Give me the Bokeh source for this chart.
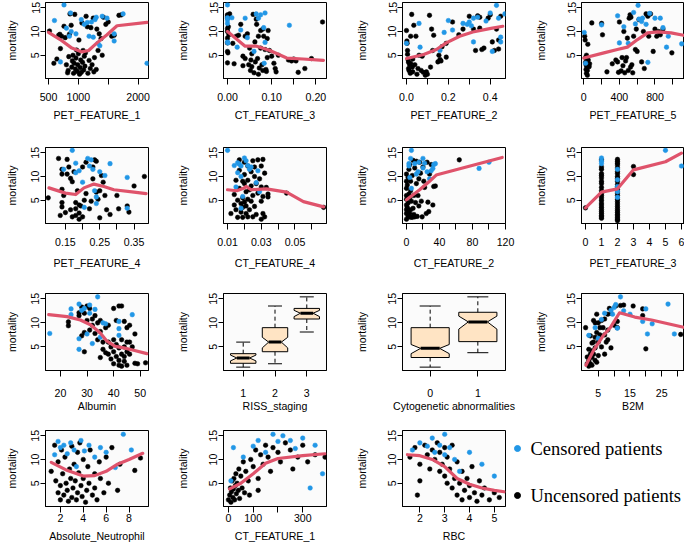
from bokeh.plotting import figure
from bokeh.layouts import row, column
from bokeh.models import Range1d, FixedTicker
from bokeh.embed import file_html
from bokeh.resources import INLINE
from bokeh.core.properties import value

# ---------------- shared ----------------
MORT_RANGE = (0.1, 16.1)
Y_TICKS = [5, 10, 15]
Y_LABEL = "mortality"
LEGEND_LABELS = ["Censored patients", "Uncensored patients"]

BLACK = "#000000"
BLUE = "#2297E6"
RED = "#DF536B"
BOXFILL = "#FFE4C4"
FONT = "Liberation Sans"
LEGFONT = "Liberation Serif"
FS = "10.6px"

# ---------------- panel data ----------------
pet1_name = "PET_FEATURE_1"
pet1_xlim = (450, 2175)
pet1_ticks = [500, 1000, 1500, 2000]
pet1_labels = ["500", "1000", "", "2000"]
pet1_black = [(517,10.1),(590,3.3),(640,4.2),(670,9.2),(690,9.4),(700,6.4),(720,9.0),(760,11.1),(780,8.7),(800,3.0),
              (820,1.3),(830,1.8),(840,4.7),(850,9.4),(860,13.7),(880,11.3),(890,2.5),(900,3.8),(910,5.0),(920,1.2),
              (930,3.3),(940,13.6),(950,2.1),(960,4.4),(970,6.1),(980,1.6),(990,3.0),(1000,5.3),(1010,8.2),(1020,1.0),
              (1030,2.4),(1040,4.0),(1050,1.4),(1060,11.8),(1070,3.5),(1080,6.0),(1090,1.9),(1100,4.8),(1110,2.7),(1120,5.5),
              (1130,13.2),(1150,11.0),(1160,1.2),(1180,3.9),(1200,2.2),(1210,10.8),(1230,3.0),(1250,12.8),(1260,1.5),(1270,4.5),
              (1300,2.0),(1310,10.5),(1330,6.0),(1350,9.5),(1380,8.5),(1400,5.0),(1420,13.0),(1460,11.5),(1500,12.0),(1560,9.0),
              (1600,9.2),(1680,13.4),(1720,13.5)]
pet1_blue = [(600,12.3),(700,3.6),(760,15.6),(800,10.7),(850,9.0),(880,10.0),(870,13.9),(960,9.5),(1050,12.5),(1100,11.5),
             (1150,11.9),(1180,9.0),(1220,12.0),(1250,8.8),(1280,12.5),(1300,13.0),(1330,7.5),(1360,7.0),(1400,13.2),(1480,12.8),
             (1600,8.0),(1600,9.5),(1750,13.7),(2150,3.3)]
pet1_loess = [(500,9.8),(696,8.3),(892,6.5),(1060,5.7),(1172,6.0),(1312,7.6),(1480,9.3),(1648,11.2),(2150,11.9)]

ct3_name = "CT_FEATURE_3"
ct3_xlim = (-0.009, 0.224)
ct3_ticks = [0.0, 0.05, 0.1, 0.15, 0.2]
ct3_labels = ["0.00", "", "0.10", "", "0.20"]
ct3_black = [(0,13.5),(0,13.2),(0,12.8),(0.002,11.0),(0,10.6),(0,10.0),(0.003,9.3),(0,8.6),(0,7.6),(0,5.8),(0.001,5.5),(0,3.4),
             (0.005,13.7),(0.012,7.5),(0.015,3.2),(0.02,9.0),(0.025,9.2),(0.03,11.5),(0.035,4.8),(0.035,2.8),(0.04,4.3),(0.04,9.0),
             (0.045,9.5),(0.048,3.0),(0.05,6.5),(0.052,1.8),(0.053,4.0),(0.055,2.6),(0.055,5.3),(0.058,13.6),(0.06,1.3),(0.062,7.8),
             (0.063,3.6),(0.065,12.6),(0.066,11.5),(0.068,4.3),(0.07,9.0),(0.07,1.0),(0.072,2.3),(0.075,10.2),(0.075,6.5),(0.078,3.0),
             (0.08,10.5),(0.08,1.8),(0.082,9.0),(0.085,6.2),(0.087,2.0),(0.088,1.6),(0.09,8.5),(0.09,4.5),(0.092,10.2),(0.095,6.0),
             (0.1,4.8),(0.105,3.3),(0.108,2.2),(0.11,1.5),(0.115,5.0),(0.138,4.0),(0.145,3.8),(0.15,4.2),(0.155,3.8),(0.16,1.4),
             (0.175,2.2),(0.19,4.3),(0.215,12.0)]
ct3_blue = [(0,15.6),(0,12.9),(0,12.4),(0,11.7),(0,7.8),(0.001,7.6),(0.01,12.9),(0.022,6.7),(0.03,10.3),(0.04,12.8),
            (0.045,8.7),(0.06,5.8),(0.065,13.7),(0.07,12.8),(0.075,13.5),(0.082,10.8),(0.085,13.9),(0.085,7.7),(0.083,3.3),(0.14,11.3)]
ct3_loess = [(0,10.0),(0.04,6.9),(0.066,6.9),(0.096,6.0),(0.134,4.4),(0.171,4.2),(0.217,3.9)]

pet2_name = "PET_FEATURE_2"
pet2_xlim = (-0.019, 0.473)
pet2_ticks = [0.0, 0.1, 0.2, 0.3, 0.4]
pet2_labels = ["0.0", "", "0.2", "", "0.4"]
pet2_black = [(0,10.2),(0.002,8.0),(0.003,7.5),(0.005,6.0),(0.005,5.2),(0.008,4.0),(0.01,3.5),(0.01,2.2),(0.012,1.8),(0.015,3.0),
              (0.018,1.2),(0.02,3.3),(0.02,9.0),(0.025,13.6),(0.028,2.5),(0.03,1.5),(0.03,4.2),(0.035,11.3),(0.04,3.0),(0.045,9.0),
              (0.05,1.0),(0.055,2.2),(0.06,5.0),(0.07,1.8),(0.075,4.8),(0.08,1.4),(0.09,0.8),(0.095,1.5),(0.1,1.0),(0.11,13.4),
              (0.115,2.5),(0.12,10.5),(0.125,6.0),(0.13,9.2),(0.15,3.6),(0.155,5.0),(0.16,4.1),(0.165,3.8),(0.17,6.8),(0.19,7.5),
              (0.19,4.6),(0.22,12.0),(0.25,9.3),(0.27,10.5),(0.3,13.2),(0.32,10.5),(0.33,6.0),(0.34,13.3),(0.35,13.0),(0.35,10.7),
              (0.36,6.2),(0.37,6.5),(0.39,12.8),(0.4,13.5),(0.41,7.8),(0.42,6.0),(0.43,10.5),(0.44,8.2),(0.45,13.2),(0.44,6.3)]
pet2_blue = [(0,7.5),(0.06,11.7),(0.065,6.7),(0.16,6.0),(0.18,9.8),(0.2,12.3),(0.22,10.3),(0.27,11.7),(0.29,11.5),(0.3,12.0),
             (0.31,11.2),(0.32,7.8),(0.32,12.8),(0.34,13.0),(0.38,12.2),(0.4,13.9),(0.41,5.8),(0.43,15.5),(0.44,12.8),(0.45,8.8),
             (0.45,7.8),(0.47,13.7)]
pet2_loess = [(0,4.3),(0.079,5.1),(0.143,6.2),(0.19,7.6),(0.254,9.0),(0.317,9.9),(0.397,10.6),(0.46,11.1)]

pet5_name = "PET_FEATURE_5"
pet5_xlim = (-26, 1132)
pet5_ticks = [0, 200, 400, 600, 800, 1000]
pet5_labels = ["0", "", "400", "", "800", ""]
pet5_black = [(10,9.0),(15,8.2),(20,4.5),(20,3.5),(25,3.0),(25,2.0),(30,1.2),(30,5.0),(35,2.5),(40,1.8),(40,0.8),(45,7.3),
              (50,4.0),(60,2.6),(65,3.2),(90,11.8),(200,11.7),(210,9.3),(260,1.5),(320,3.2),(360,4.0),(380,3.6),(390,1.4),
              (400,12.0),(420,1.7),(430,4.5),(440,2.8),(450,10.0),(460,1.3),(470,3.8),(480,4.5),(490,8.6),(500,1.8),(510,12.8),
              (520,13.5),(525,2.5),(530,13.0),(540,3.0),(550,1.3),(560,9.0),(580,6.2),(590,10.5),(600,5.8),(620,12.5),(650,3.6),
              (670,10.0),(680,2.2),(700,13.7),(720,13.2),(730,9.0),(750,13.7),(780,5.8),(800,10.5),(820,9.0),(840,10.0),
              (860,9.3),(890,10.5),(990,5.5)]
pet5_blue = [(5,9.8),(20,3.3),(200,11.4),(380,13.3),(400,7.6),(450,11.0),(500,7.5),(560,14.0),(580,11.6),(610,15.5),
             (620,12.6),(650,12.1),(660,12.8),(700,11.5),(720,3.5),(740,13.8),(800,12.8),(860,12.8),(890,10.8),(930,6.7),
             (950,9.0),(1100,7.4)]
pet5_loess = [(0,4.4),(226,5.5),(377,6.2),(490,6.7),(604,8.3),(717,9.7),(830,9.9),(981,9.7),(1120,9.2)]

pet4_name = "PET_FEATURE_4"
pet4_xlim = (0.092, 0.392)
pet4_ticks = [0.15, 0.2, 0.25, 0.3, 0.35]
pet4_labels = ["0.15", "", "0.25", "", "0.35"]
pet4_black = [(0.1,5.5),(0.13,13.8),(0.14,11.5),(0.14,10.5),(0.14,7.3),(0.145,6.0),(0.14,4.5),(0.14,3.6),(0.135,1.8),(0.155,13.6),
              (0.15,2.4),(0.155,10.5),(0.16,12.0),(0.165,9.6),(0.17,8.9),(0.165,3.0),(0.17,1.5),(0.175,11.0),(0.18,4.5),(0.18,3.2),
              (0.18,1.8),(0.185,7.0),(0.19,1.0),(0.19,2.3),(0.19,4.0),(0.195,3.8),(0.2,12.0),(0.2,1.5),(0.205,5.0),(0.21,13.0),
              (0.21,6.4),(0.22,3.2),(0.225,4.8),(0.23,12.0),(0.23,9.5),(0.235,13.5),(0.24,13.2),(0.24,6.7),(0.245,5.2),(0.25,7.0),
              (0.25,1.3),(0.255,10.2),(0.26,8.8),(0.265,6.0),(0.27,3.0),(0.28,2.0),(0.3,6.0),(0.305,3.2),(0.33,3.8),(0.335,2.5),
              (0.35,8.0),(0.38,10.0)]
pet4_blue = [(0.145,11.5),(0.17,15.5),(0.18,12.8),(0.18,10.8),(0.19,11.2),(0.2,8.8),(0.205,3.5),(0.215,13.8),(0.22,12.2),
             (0.225,13.5),(0.23,11.5),(0.235,7.0),(0.24,5.7),(0.24,4.3),(0.25,11.0),(0.265,10.2),(0.28,12.7),(0.33,9.8),(0.33,3.3)]
pet4_loess = [(0.102,7.6),(0.15,6.5),(0.18,6.2),(0.204,7.6),(0.233,8.4),(0.262,7.9),(0.291,7.2),(0.35,6.7),(0.385,6.4)]

ct4_name = "CT_FEATURE_4"
ct4_xlim = (0.0076, 0.0687)
ct4_ticks = [0.01, 0.02, 0.03, 0.04, 0.05, 0.06]
ct4_labels = ["0.01", "", "0.03", "", "0.05", ""]
ct4_black = [(0.012,2.2),(0.014,6.2),(0.014,4.0),(0.015,9.2),(0.015,3.0),(0.016,1.4),(0.016,5.0),(0.017,13.5),(0.017,11.3),
             (0.017,7.5),(0.018,4.3),(0.018,2.5),(0.019,9.0),(0.019,5.5),(0.019,3.5),(0.019,1.4),(0.02,13.0),(0.02,10.4),(0.02,8.5),
             (0.02,4.6),(0.021,6.8),(0.021,3.8),(0.021,2.2),(0.022,12.2),(0.022,9.2),(0.022,5.2),(0.022,1.5),(0.023,7.2),(0.023,3.0),
             (0.024,11.0),(0.024,8.0),(0.024,4.8),(0.025,13.3),(0.025,6.0),(0.025,1.5),(0.026,10.0),(0.026,12.0),(0.026,3.7),
             (0.027,8.5),(0.027,2.0),(0.028,13.5),(0.028,6.5),(0.029,9.5),(0.03,12.2),(0.03,7.8),(0.03,4.8),(0.03,1.0),(0.031,13.6),
             (0.031,5.8),(0.031,2.2),(0.032,10.7),(0.032,1.5),(0.033,7.7),(0.034,5.7),(0.034,6.3),(0.045,6.5),(0.067,3.5)]
ct4_blue = [(0.01,15.5),(0.014,12.3),(0.015,7.8),(0.016,12.9),(0.016,10.8),(0.017,12.6),(0.018,12.2),(0.018,10.0),(0.019,5.8),
            (0.02,13.9),(0.021,13.3),(0.022,12.3),(0.023,11.5),(0.024,12.0),(0.027,8.7),(0.028,11.2),(0.029,6.8),(0.018,3.3)]
ct4_loess = [(0.01,7.2),(0.0155,7.0),(0.0195,7.5),(0.021,7.9),(0.024,7.2),(0.033,7.4),(0.045,6.7),(0.055,4.7),(0.067,3.6)]

ct2_name = "CT_FEATURE_2"
ct2_xlim = (-4.8, 120)
ct2_ticks = [0, 20, 40, 60, 80, 100, 120]
ct2_labels = ["0", "", "40", "", "80", "", "120"]
ct2_black = [(0,1.0),(0,2.2),(0,3.0),(0,4.0),(0,5.2),(0,6.0),(0,7.5),(0,9.0),(0,10.5),(1,3.5),(1,8.2),(2,1.6),(2,2.5),(2,4.4),
             (2,9.8),(3,6.3),(3,11.5),(4,2.2),(4,5.5),(4,12.5),(5,1.4),(5,3.0),(5,7.0),(5,9.0),(6,4.8),(7,1.4),(7,10.2),(8,3.3),
             (8,13.4),(9,2.0),(9,6.0),(10,11.8),(10,1.5),(11,4.5),(12,8.5),(12,13.2),(13,1.6),(14,6.0),(15,9.5),(15,3.8),(16,13.0),
             (17,10.7),(18,4.8),(19,1.5),(20,12.0),(21,9.0),(22,7.7),(24,2.2),(25,13.0),(26,4.6),(27,2.6),(28,10.5),(30,12.5),
             (32,4.0),(33,7.9),(35,8.0),(64,13.5)]
ct2_blue = [(3,12.7),(3,12.2),(6,15.5),(5,13.8),(4,9.8),(6,7.5),(10,12.7),(12,10.5),(14,11.0),(15,13.0),(20,13.8),(20,11.8),
            (22,12.8),(25,11.0),(28,9.5),(30,11.2),(32,11.7),(33,12.5),(35,12.7),(88,11.7),(100,13.0)]
ct2_loess = [(0,5.1),(16,7.2),(28,9.0),(36,10.3),(116,14.0)]

pet3_name = "PET_FEATURE_3"
pet3_xlim = (-0.25, 6.19)
pet3_ticks = [0, 1, 2, 3, 4, 5, 6]
pet3_labels = ["0", "1", "2", "3", "4", "5", "6"]
pet3_black = [(0,3.4),
              (1,1.2),(1,1.5),(1,1.8),(1,2.2),(1,2.6),(1,3.0),(1,3.5),(1,4.0),(1,4.4),(1,5.0),(1,5.5),(1,6.0),(1,6.4),(1,7.0),
              (1,7.7),(1,8.5),(1,9.0),(1,9.7),(1,10.2),(1,10.6),(1,11.5),(1,12.0),(1,13.5),
              (2,0.7),(2,1.0),(2,1.3),(2,1.7),(2,2.0),(2,2.4),(2,2.8),(2,3.2),(2,3.7),(2,4.2),(2,4.7),(2,5.2),(2,6.0),(2,6.5),
              (2,7.2),(2,7.8),(2,8.3),(2,9.0),(2,9.6),(2,10.0),(2,10.6),(2,11.0),(2,11.8),(2,12.4),(2,12.8),(2,13.2),(2,13.6),
              (3,12.1),(3,10.4)]
pet3_blue = [(1,13.9),(1,13.2),(1,12.7),(2,11.5),(2,9.3),(2,7.9),(2,6.8),(2,5.6),(5,15.5),(6,12.2)]
pet3_loess = [(0,3.4),(1,6.7),(2,7.4),(3,11.4),(5,13.1),(6,14.9)]

alb_name = "Albumin"
alb_xlim = (14.4, 53.1)
alb_ticks = [20, 30, 40, 50]
alb_labels = ["20", "30", "40", "50"]
alb_black = [(23,10.2),(23,9.4),(27,12.1),(27,11.5),(28,7.3),(28,13.3),(29,4.0),(29,8.0),(29,12.0),(30,13.5),(30,10.5),(31,13.0),
             (31,8.5),(32,9.5),(32,10.8),(33,11.5),(33,7.8),(34,10.0),(34,6.5),(35,10.5),(35,8.2),(35,2.8),(36,6.0),(36,4.5),
             (37,3.8),(37,9.0),(38,6.0),(38,3.5),(38,9.5),(39,5.0),(39,2.5),(40,13.0),(40,4.0),(40,1.5),(40,6.5),(41,10.5),(41,3.0),
             (41,5.5),(42,13.5),(42,1.2),(42,4.8),(42,2.2),(43,13.5),(43,6.5),(43,3.5),(43,1.0),(44,10.3),(44,5.0),(44,3.0),(44,2.0),
             (45,9.0),(45,6.0),(45,4.0),(45,1.2),(46,9.5),(46,6.0),(46,3.5),(47,5.0),(48,7.7),(48,1.6),(49,1.5),(52,1.7)]
alb_blue = [(16,7.8),(24,12.9),(24,11.7),(27,13.9),(27,6.7),(27,4.5),(28,12.6),(29,13.0),(30,7.7),(31,13.7),(31,12.0),(32,5.7),
            (33,12.8),(34,15.4),(35,7.0),(36,10.0),(37,9.8),(42,10.3),(42,8.8),(42,7.4),(47,11.7)]
alb_loess = [(15.6,11.7),(22.5,11.3),(27.5,10.6),(31.3,9.6),(35,7.9),(37.5,6.2),(40.6,5.1),(43.8,4.8),(47.5,4.3),(52.5,3.6)]

riss_name = "RISS_staging"
riss_xlim = (0.38, 3.62)
riss_groups = [1, 2, 3]
riss_labels = ["1", "2", "3"]
riss_whisk_lo = [0.8, 1.5, 8.1]
riss_q1 = [1.6, 4.0, 10.8]
riss_median = [2.7, 6.0, 12.0]
riss_q3 = [3.6, 9.0, 13.0]
riss_whisk_hi = [6.0, 13.5, 15.4]
riss_notch_lo = [2.1, 4.8, 11.3]
riss_notch_hi = [3.3, 7.0, 12.6]

cyto_name = "Cytogenetic abnormalities"
cyto_xlim = (-0.58, 1.58)
cyto_groups = [0, 1]
cyto_labels = ["0", "1"]
cyto_whisk_lo = [0.8, 3.8]
cyto_q1 = [2.8, 6.1]
cyto_median = [4.7, 10.2]
cyto_q3 = [9.0, 12.2]
cyto_whisk_hi = [13.5, 15.4]
cyto_notch_lo = [3.6, 8.7]
cyto_notch_hi = [5.5, 11.4]

b2m_name = "B2M"
b2m_xlim = (-0.3, 32.2)
b2m_ticks = [5, 10, 15, 20, 25, 30]
b2m_labels = ["5", "", "15", "", "25", ""]
b2m_black = [(1,9.0),(1.5,2.9),(1.5,1.5),(2,2.2),(2,4.5),(2,1.0),(2.5,7.3),(2.5,3.5),(2.5,1.5),(3,5.8),(3,2.8),(3,4.2),(3,1.2),
             (3.5,10.5),(3.5,6.0),(3.5,3.5),(4,10.0),(4,4.8),(4,2.2),(4,7.0),(4.5,11.8),(4.5,8.0),(4.5,1.8),(5,10.0),(5,6.0),
             (5,3.2),(5.5,7.5),(5.5,9.0),(6,10.5),(6,5.0),(6.5,9.0),(7,10.8),(7,3.5),(7,7.5),(7.5,6.0),(8,11.8),(8,8.5),(8,6.5),
             (8.5,13.0),(9,4.8),(9,12.0),(10,9.5),(10.5,13.5),(11,10.3),(11,9.0),(12,13.6),(13,13.7),(16,13.5),(19,12.9),
             (19,11.5),(20,4.6),(31,7.6)]
b2m_blue = [(2,7.4),(4,9.0),(5,6.8),(6,10.7),(7,12.0),(9,12.6),(9.5,11.8),(10,13.2),(10.5,13.8),(11,8.9),(12,15.4),(13,12.5),
            (15,11.8),(19,10.3),(20,12.9),(20.5,7.7),(22,9.8),(27,13.9),(29,7.7)]
b2m_loess = [(1.1,1.2),(3.7,4.5),(6.4,7.2),(9.0,9.2),(11.7,12.1),(16.5,11.2),(21.8,10.6),(31.9,9.1)]

neut_name = "Absolute_Neutrophil"
neut_xlim = (0.7, 9.7)
neut_ticks = [2, 4, 6, 8]
neut_labels = ["2", "4", "6", "8"]
neut_black = [(1.2,7.5),(1.5,13.0),(1.6,5.5),(1.8,3.0),(1.8,9.5),(2.0,1.5),(2.0,4.5),(2.1,12.0),(2.2,7.0),(2.3,2.5),(2.4,10.5),
              (2.5,5.0),(2.6,3.5),(2.7,1.2),(2.8,8.0),(2.9,6.0),(3.0,12.8),(3.0,2.0),(3.1,4.0),(3.2,9.0),(3.3,5.5),(3.4,1.5),
              (3.5,11.5),(3.5,3.0),(3.6,7.2),(3.7,13.5),(3.8,4.5),(3.9,2.2),(4.0,10.0),(4.0,6.0),(4.2,1.0),(4.3,3.5),(4.4,8.5),
              (4.5,5.0),(4.6,12.0),(4.8,2.5),(5.0,7.0),(5.0,4.0),(5.2,1.5),(5.4,9.5),(5.5,6.0),(5.8,3.0),(6.0,10.5),(6.2,5.0),
              (6.5,12.5),(7.0,3.5),(7.2,9.0),(8.5,7.7),(9.0,10.3)]
neut_blue = [(1.5,11.0),(1.8,13.8),(2.0,12.5),(2.3,13.0),(2.6,11.2),(2.9,13.5),(3.2,12.0),(3.4,8.5),(3.8,14.0),(4.1,11.8),
             (4.5,13.0),(5.0,10.5),(5.5,12.5),(6.0,11.5),(6.8,8.3),(7.5,15.3),(8.2,12.0)]
neut_loess = [(1.2,9.4),(2.5,7.8),(4.0,6.5),(5.0,6.6),(6.0,7.5),(7.0,9.0),(8.0,10.0),(9.2,11.3)]

ct1_name = "CT_FEATURE_1"
ct1_xlim = (-20, 396)
ct1_ticks = [0, 100, 200, 300]
ct1_labels = ["0", "100", "", "300"]
ct1_black = [(0,1.5),(5,2.5),(8,4.0),(10,1.0),(12,3.2),(15,5.5),(18,2.0),(20,3.8),(22,6.0),(25,1.5),(28,4.5),(30,7.0),(32,2.8),
             (35,5.0),(40,3.5),(42,8.0),(45,1.8),(50,6.5),(55,4.0),(60,9.5),(65,3.0),(70,7.5),(80,5.5),(90,10.0),(100,8.5),
             (110,12.0),(120,6.0),(130,11.0),(140,9.0),(150,13.0),(160,10.5),(170,7.5),(180,12.5),(200,11.5),(210,9.5),
             (230,13.5),(250,12.0),(260,8.0),(280,10.5),(300,13.0),(320,9.5),(350,11.0),(390,10.5),(120,3.5),(85,2.5)]
ct1_blue = [(10,5.5),(20,12.5),(60,10.5),(100,12.8),(120,14.0),(150,11.5),(180,15.3),(200,13.8),(220,15.0),(250,14.0),
            (270,12.3),(300,14.5),(330,4.0),(350,13.0),(380,7.0)]
ct1_loess = [(5,3.8),(50,5.0),(100,7.0),(150,9.2),(200,10.2),(300,10.8),(390,11.2)]

rbc_name = "RBC"
rbc_xlim = (1.3, 5.45)
rbc_ticks = [2, 3, 4, 5]
rbc_labels = ["2", "3", "4", "5"]
rbc_black = [(1.6,10.5),(1.8,12.5),(2.0,9.0),(2.2,13.0),(2.3,11.0),(2.4,8.0),(2.5,12.0),(2.6,10.0),(2.7,13.5),(2.8,7.5),
             (2.8,11.5),(2.9,9.0),(3.0,6.5),(3.0,12.5),(3.1,5.0),(3.1,10.5),(3.2,8.0),(3.3,4.0),(3.3,13.0),(3.4,6.0),(3.5,2.5),
             (3.5,9.5),(3.6,5.0),(3.7,1.5),(3.7,7.5),(3.8,3.5),(3.9,6.0),(4.0,2.0),(4.0,4.5),(4.1,8.5),(4.2,3.0),(4.3,1.2),
             (4.4,5.5),(4.5,2.5),(4.6,4.0),(4.8,1.5),(5.0,3.0),(5.2,2.0),(2.0,5.5),(1.9,2.5)]
rbc_blue = [(1.7,12.0),(2.0,13.5),(2.3,12.8),(2.5,14.5),(2.6,11.5),(2.8,13.0),(3.0,15.3),(3.0,11.0),(3.2,12.5),(3.4,10.0),
            (3.6,7.5),(4.0,11.5),(4.5,9.0),(5.0,6.5)]
rbc_loess = [(1.5,11.0),(2.0,10.8),(2.5,10.0),(3.0,8.5),(3.5,6.0),(4.0,4.8),(4.5,4.0),(5.0,3.5),(5.4,3.2)]

# ---------------- layout ----------------
COL_WIDTH = [171, 179, 179, 155]
COL_BORDER_LEFT = [45, 52, 52, 52]
COL_YLABEL_STANDOFF = [11, 18, 18, 18]
FRAME_W = 103
# (height, top border, bottom border, tick label standoff, axis label standoff)
ROWS = [(140, 2, 62, 8, 5), (146, 7, 63, 8, 8), (137, 7, 53, 12, 0), (122, 7, 39, 1, 5)]


def base_fig(xlim, col, rspec, width=None):
    h, bt, bb, _, _ = rspec
    w = COL_WIDTH[col] if width is None else width
    bl = COL_BORDER_LEFT[col]
    p = figure(width=w, height=h, x_range=Range1d(*xlim), y_range=Range1d(*MORT_RANGE),
               output_backend="svg", toolbar_location=None,
               min_border_left=bl, min_border_right=w - bl - FRAME_W,
               min_border_top=bt, min_border_bottom=bb,
               background_fill_color="#FBFBFB", border_fill_color="white",
               outline_line_color="black", outline_line_width=1)
    p.grid.visible = False
    return p


def style_axes(p, ticks, labels, name, col, rspec):
    _, _, _, tls, als = rspec
    for ax in (p.xaxis[0], p.yaxis[0]):
        ax.axis_label_text_font_style = "normal"
        ax.axis_label_text_font = FONT
        ax.axis_label_text_font_size = FS
        ax.axis_label_text_color = "black"
        ax.major_label_text_font = FONT
        ax.major_label_text_font_size = FS
        ax.major_label_text_color = "black"
        ax.minor_tick_line_color = None
        ax.major_tick_in = 0
        ax.axis_line_color = "black"
        ax.major_tick_line_color = "black"
    xa = p.xaxis[0]
    xa.ticker = FixedTicker(ticks=ticks)
    xa.major_label_overrides = {t: l for t, l in zip(ticks, labels)}
    xa.axis_label = name
    xa.major_tick_out = 6
    xa.major_label_standoff = tls
    xa.axis_label_standoff = als
    ya = p.yaxis[0]
    ya.ticker = FixedTicker(ticks=Y_TICKS)
    ya.major_label_overrides = {t: str(t) for t in Y_TICKS}
    ya.axis_label = Y_LABEL
    ya.major_label_orientation = "vertical"
    ya.major_tick_out = 5
    ya.major_label_standoff = 1
    ya.axis_label_standoff = COL_YLABEL_STANDOFF[col]


def scatter_panel(name, xlim, ticks, labels, black, blue, loess, col, rspec, width=None):
    p = base_fig(xlim, col, rspec, width)
    p.scatter([a for a, b in black], [b for a, b in black], size=4.6,
              fill_color=BLACK, line_color=BLACK, line_width=0.5)
    p.scatter([a for a, b in blue], [b for a, b in blue], size=4.6,
              fill_color=BLUE, line_color=BLUE, line_width=0.5)
    p.line([a for a, b in loess], [b for a, b in loess], line_color=RED, line_width=3.2,
           line_join="round", line_cap="round")
    style_axes(p, ticks, labels, name, col, rspec)
    return p


def box_panel(name, xlim, groups, labels, wlo, q1, med, q3, whi, nlo, nhi, col, rspec):
    p = base_fig(xlim, col, rspec)
    hw, cw = 0.4, 0.22
    xs, ys = [], []
    for g, a, b, m, c, d in zip(groups, q1, nlo, med, nhi, q3):
        xs.append([g - hw, g + hw, g + hw, g + hw / 2, g + hw, g + hw, g - hw, g - hw, g - hw / 2, g - hw])
        ys.append([a, a, b, m, c, d, d, c, m, b])
    p.patches(xs, ys, fill_color=BOXFILL, line_color="black", line_width=1)
    p.segment(groups, q3, groups, whi, line_color="black", line_dash="4 3", line_width=1)
    p.segment(groups, q1, groups, wlo, line_color="black", line_dash="4 3", line_width=1)
    p.segment([g - cw for g in groups], whi, [g + cw for g in groups], whi, line_color="black", line_width=1)
    p.segment([g - cw for g in groups], wlo, [g + cw for g in groups], wlo, line_color="black", line_width=1)
    p.segment([g - hw / 2 for g in groups], med, [g + hw / 2 for g in groups], med, line_color="black", line_width=3)
    style_axes(p, groups, labels, name, col, rspec)
    return p


def legend_panel(width, rspec):
    # frame is aligned with the neighbouring panels of the row; use pixel-sized ranges
    h, bt, bb, _, _ = rspec
    fh = h - bt - bb
    p = figure(width=width, height=h, x_range=Range1d(0, width), y_range=Range1d(0, fh),
               output_backend="svg", toolbar_location=None, x_axis_type=None, y_axis_type=None,
               min_border_left=0, min_border_right=0, min_border_top=bt, min_border_bottom=bb,
               outline_line_color=None, background_fill_color="white",
               border_fill_color="white")
    p.grid.visible = False
    ys = [fh - 18, fh - 65]
    p.scatter([10, 10], ys, size=6, fill_color=[BLUE, BLACK], line_color=[BLUE, BLACK])
    p.text([23, 23], ys, text=LEGEND_LABELS, text_font=value(LEGFONT), text_font_size="18.5px",
           text_baseline="middle", text_align="left", text_color="black")
    return p


r1 = ROWS[0]
row1 = row(
    scatter_panel(pet1_name, pet1_xlim, pet1_ticks, pet1_labels, pet1_black, pet1_blue, pet1_loess, 0, r1),
    scatter_panel(ct3_name, ct3_xlim, ct3_ticks, ct3_labels, ct3_black, ct3_blue, ct3_loess, 1, r1),
    scatter_panel(pet2_name, pet2_xlim, pet2_ticks, pet2_labels, pet2_black, pet2_blue, pet2_loess, 2, r1),
    scatter_panel(pet5_name, pet5_xlim, pet5_ticks, pet5_labels, pet5_black, pet5_blue, pet5_loess, 3, r1),
    spacing=0)
r2 = ROWS[1]
row2 = row(
    scatter_panel(pet4_name, pet4_xlim, pet4_ticks, pet4_labels, pet4_black, pet4_blue, pet4_loess, 0, r2),
    scatter_panel(ct4_name, ct4_xlim, ct4_ticks, ct4_labels, ct4_black, ct4_blue, ct4_loess, 1, r2),
    scatter_panel(ct2_name, ct2_xlim, ct2_ticks, ct2_labels, ct2_black, ct2_blue, ct2_loess, 2, r2),
    scatter_panel(pet3_name, pet3_xlim, pet3_ticks, pet3_labels, pet3_black, pet3_blue, pet3_loess, 3, r2),
    spacing=0)
r3 = ROWS[2]
row3 = row(
    scatter_panel(alb_name, alb_xlim, alb_ticks, alb_labels, alb_black, alb_blue, alb_loess, 0, r3),
    box_panel(riss_name, riss_xlim, riss_groups, riss_labels, riss_whisk_lo, riss_q1, riss_median, riss_q3,
              riss_whisk_hi, riss_notch_lo, riss_notch_hi, 1, r3),
    box_panel(cyto_name, cyto_xlim, cyto_groups, cyto_labels, cyto_whisk_lo, cyto_q1, cyto_median, cyto_q3,
              cyto_whisk_hi, cyto_notch_lo, cyto_notch_hi, 2, r3),
    scatter_panel(b2m_name, b2m_xlim, b2m_ticks, b2m_labels, b2m_black, b2m_blue, b2m_loess, 3, r3),
    spacing=0)
r4 = ROWS[3]
row4 = row(
    scatter_panel(neut_name, neut_xlim, neut_ticks, neut_labels, neut_black, neut_blue, neut_loess, 0, r4),
    scatter_panel(ct1_name, ct1_xlim, ct1_ticks, ct1_labels, ct1_black, ct1_blue, ct1_loess, 1, r4),
    scatter_panel(rbc_name, rbc_xlim, rbc_ticks, rbc_labels, rbc_black, rbc_blue, rbc_loess, 2, r4, width=157),
    legend_panel(177, r4),
    spacing=0)

p = column(row1, row2, row3, row4, spacing=0)

open("out.html", "w").write(file_html(p, INLINE))
